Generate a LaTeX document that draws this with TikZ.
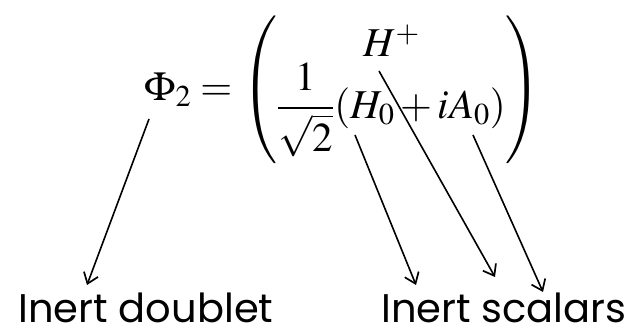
\documentclass[tikz,border=0pt]{standalone}
\usepackage[no-math]{fontspec}
\usepackage{mathptmx}
\newfontfamily\comic{Poppins}
\usetikzlibrary{arrows.meta}
\begin{document}
\begin{tikzpicture}[x=1pt,y=-1pt,
  every node/.style={inner sep=0pt},
  arr/.style={-{Straight Barb[length=10pt,width=15pt,line width=1.7pt]}, line width=1.6pt},
  lbl/.style={font=\comic\fontsize{40}{44}\selectfont, anchor=base}]
\useasboundingbox (0,0) rectangle (633,328);
\node (eq) at (343,90) {\fontsize{41}{48}\selectfont $\displaystyle \Phi_2 = \left(\begin{array}{@{}c@{}} H^+ \\[-8pt] \displaystyle\frac{1}{\sqrt{2}}(H_0+iA_0)\end{array}\right)$};
\node[lbl] (doublet) at (146,323) {Inert doublet};
\node[lbl] (scalars) at (504,323) {Inert scalars};
\coordinate (sPhi) at (149,119);
\coordinate (sH0) at (355,135);
\coordinate (sHp) at (379,71);
\coordinate (sA0) at (473,135);
\coordinate (tPhi) at (87,285);
\coordinate (tH0) at (416,285);
\coordinate (tHp) at (495,277);
\coordinate (tA0) at (543,292);
\draw[arr] (sPhi) -- (tPhi);
\draw[arr] (sH0) -- (tH0);
\draw[arr] (sHp) -- (tHp);
\draw[arr] (sA0) -- (tA0);
\end{tikzpicture}
\end{document}
